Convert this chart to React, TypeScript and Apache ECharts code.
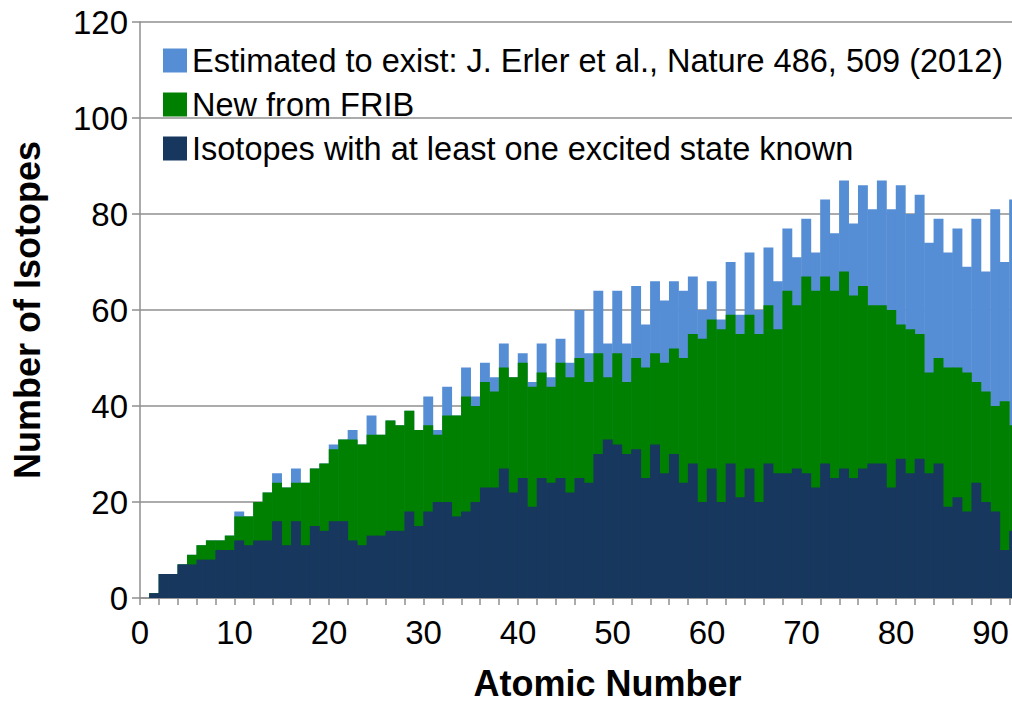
import React, { useEffect, useRef } from "react";
import * as echarts from "echarts";

const atomicNumbers = [
  1, 2, 3, 4, 5, 6, 7, 8, 9, 10, 11, 12, 13, 14, 15, 16, 17, 18, 19, 20,
  21, 22, 23, 24, 25, 26, 27, 28, 29, 30, 31, 32, 33, 34, 35, 36, 37, 38, 39, 40,
  41, 42, 43, 44, 45, 46, 47, 48, 49, 50, 51, 52, 53, 54, 55, 56, 57, 58, 59, 60,
  61, 62, 63, 64, 65, 66, 67, 68, 69, 70, 71, 72, 73, 74, 75, 76, 77, 78, 79, 80,
  81, 82, 83, 84, 85, 86, 87, 88, 89, 90, 91, 92,
];

const estimatedToExist = [
  1, 5, 5, 7, 9, 11, 12, 12, 13, 18, 17, 20, 22, 26, 23, 27, 24, 27, 28, 32,
  33, 35, 32, 38, 34, 37, 36, 39, 35, 42, 35, 44, 38, 48, 42, 49, 46, 53, 46, 51,
  45, 53, 46, 54, 49, 60, 51, 64, 53, 64, 53, 65, 57, 66, 62, 66, 64, 67, 60, 66,
  58, 70, 59, 72, 60, 73, 66, 77, 71, 79, 72, 83, 76, 87, 78, 86, 81, 87, 81, 86,
  80, 84, 74, 79, 72, 77, 69, 79, 68, 81, 70, 83,
];

const newFromFRIB = [
  1, 5, 5, 7, 9, 11, 12, 12, 13, 17, 17, 20, 22, 24, 23, 24, 24, 27, 28, 31,
  33, 33, 32, 34, 34, 37, 36, 39, 35, 36, 34, 38, 38, 42, 40, 45, 43, 48, 46, 49,
  44, 47, 44, 49, 46, 50, 45, 51, 46, 51, 45, 50, 48, 51, 49, 52, 50, 55, 54, 58,
  56, 59, 55, 59, 55, 61, 56, 64, 61, 67, 64, 67, 64, 68, 63, 65, 61, 61, 60, 57,
  56, 55, 47, 50, 48, 48, 47, 45, 43, 40, 41, 36,
];

const excitedStateKnown = [
  1, 5, 5, 7, 7, 8, 8, 10, 10, 12, 11, 12, 12, 16, 11, 16, 11, 15, 14, 16,
  16, 12, 11, 13, 13, 14, 14, 18, 15, 18, 20, 20, 17, 18, 20, 23, 23, 27, 22, 25,
  19, 25, 24, 25, 22, 25, 24, 30, 33, 32, 30, 31, 25, 32, 26, 30, 24, 28, 20, 27,
  20, 28, 21, 27, 20, 28, 26, 26, 27, 26, 23, 28, 25, 27, 25, 27, 28, 28, 23, 29,
  26, 29, 26, 28, 19, 21, 18, 24, 20, 18, 10, 14,
];

const yTickValues = [0, 20, 40, 60, 80, 100, 120];
const xTickLabels = [0, 10, 20, 30, 40, 50, 60, 70, 80, 90];

const seriesNames = [
  "Estimated to exist: J. Erler et al., Nature 486, 509 (2012)",
  "New from FRIB",
  "Isotopes with at least one excited state known",
];
const seriesColors = ["#558ED5", "#008000", "#17375E"];
const seriesValues = [estimatedToExist, newFromFRIB, excitedStateKnown];

const FONT = "'Liberation Sans', Arial, Helvetica, sans-serif";
const GRID = "#8f8f8f";

export default function App() {
  const ref = useRef<HTMLDivElement>(null);

  useEffect(() => {
    if (!ref.current) return;
    const chart = echarts.init(ref.current, null, { renderer: "svg" });
    const option = {
      animation: false,
      backgroundColor: "#ffffff",
      grid: { left: 140, top: 22, bottom: 99, right: 15, containLabel: false },
      legend: {
        orient: "vertical",
        left: 158,
        top: 39,
        icon: "rect",
        itemWidth: 24,
        itemHeight: 24,
        itemGap: 11,
        data: seriesNames,
        textStyle: { fontSize: 32.5, color: "#000", fontFamily: FONT, lineHeight: 26 },
      },
      xAxis: {
        type: "value",
        min: 0,
        max: 100,
        interval: 2,
        name: "Atomic Number",
        nameLocation: "middle",
        nameGap: 67,
        nameTextStyle: { fontSize: 36, fontWeight: "bold", color: "#000", fontFamily: FONT, padding: [0, 10, 0, 0] },
        axisLine: { show: true, lineStyle: { color: GRID, width: 1.5 } },
        axisTick: { show: true, length: 7, lineStyle: { color: GRID, width: 1.5 } },
        axisLabel: {
          fontSize: 33,
          color: "#000",
          fontFamily: FONT,
          margin: 18,
          showMaxLabel: false,
          formatter: (v: number) => (xTickLabels.indexOf(v) >= 0 ? String(v) : ""),
        },
        splitLine: { show: false },
      },
      yAxis: {
        type: "value",
        min: yTickValues[0],
        max: yTickValues[yTickValues.length - 1],
        interval: 20,
        name: "Number of Isotopes",
        nameLocation: "middle",
        nameGap: 95,
        nameTextStyle: { fontSize: 36, fontWeight: "bold", color: "#000", fontFamily: FONT },
        axisLine: { show: true, lineStyle: { color: GRID, width: 1.5 } },
        axisTick: { show: true, length: 8, lineStyle: { color: GRID, width: 1.5 } },
        axisLabel: { fontSize: 33, color: "#000", fontFamily: FONT, margin: 12 },
        splitLine: { show: true, lineStyle: { color: GRID, width: 1.5 } },
      },
      series: seriesNames.map((name, s) => ({
        name,
        type: "bar",
        barWidth: 9.9,
        barGap: "-100%",
        itemStyle: { color: seriesColors[s] },
        emphasis: { disabled: true },
        data: seriesValues[s].map((v, i) => [atomicNumbers[i] + 0.5, v]),
      })),
    };
    chart.setOption(option as any);
    return () => chart.dispose();
  }, []);

  return (
    <div style={{ position: "fixed", left: 0, top: 0, width: 1012, height: 706, overflow: "hidden", background: "#fff" }}>
      <div ref={ref} style={{ width: 1100, height: 706 }} />
    </div>
  );
}
